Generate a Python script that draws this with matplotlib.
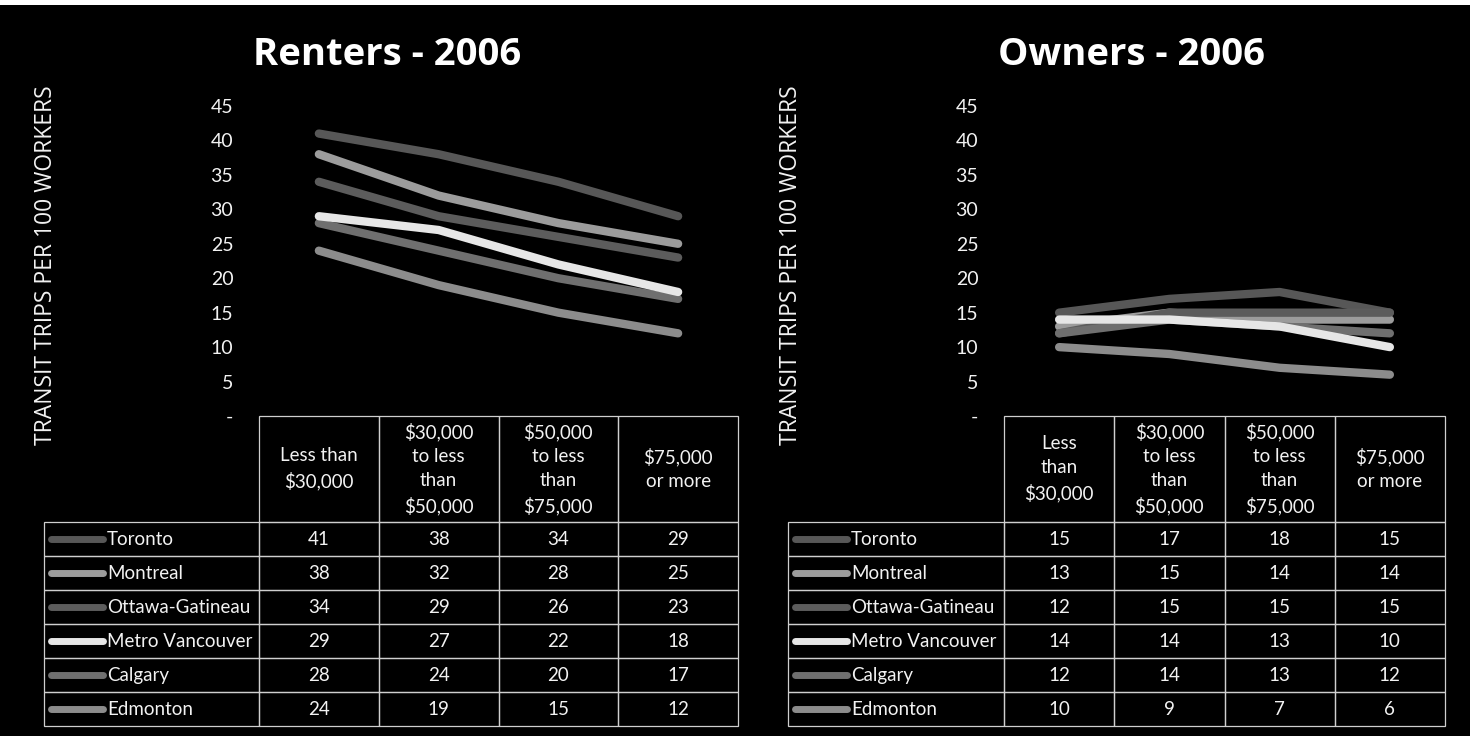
"""
Transit trips per 100 workers by household income, renters vs owners (2006).
Two Excel-style line charts, each with its data table underneath.
"""

import matplotlib
matplotlib.use("Agg")
import matplotlib.pyplot as plt
from matplotlib.patches import Rectangle
from matplotlib.lines import Line2D

# ------------------------------------------------------------
# Data
# ------------------------------------------------------------
CITIES = ["Toronto", "Montreal", "Ottawa-Gatineau",
          "Metro Vancouver", "Calgary", "Edmonton"]

INCOME_RENTERS = ["Less than\n$30,000",
                  "$30,000\nto less\nthan\n$50,000",
                  "$50,000\nto less\nthan\n$75,000",
                  "$75,000\nor more"]
INCOME_OWNERS = ["Less\nthan\n$30,000",
                 "$30,000\nto less\nthan\n$50,000",
                 "$50,000\nto less\nthan\n$75,000",
                 "$75,000\nor more"]

RENTERS = [
    [41, 38, 34, 29],
    [38, 32, 28, 25],
    [34, 29, 26, 23],
    [29, 27, 22, 18],
    [28, 24, 20, 17],
    [24, 19, 15, 12],
]
OWNERS = [
    [15, 17, 18, 15],
    [13, 15, 14, 14],
    [12, 15, 15, 15],
    [14, 14, 13, 10],
    [12, 14, 13, 12],
    [10, 9, 7, 6],
]

Y_TICKS = [0, 5, 10, 15, 20, 25, 30, 35, 40, 45]
Y_LABEL = "TRANSIT TRIPS PER 100 WORKERS"

# ------------------------------------------------------------
# Style
# ------------------------------------------------------------
LINE_COLORS = ["#575757", "#9c9c9c", "#5c5c5c", "#e6e6e6", "#6f6f6f", "#8c8c8c"]
LINE_Z = [3, 3, 3, 5, 4, 3]
GRID_C = "#cfcfcf"
TXT_C = "#f2f2f2"
BODY_FONT = "Lato"
HEAD_FONT = "Open Sans"

W, H = 1476, 736


def px_rect(x0, y0, x1, y1):
    """Pixel box (top-left origin) -> figure fraction rect."""
    return [x0 / W, 1 - y1 / H, (x1 - x0) / W, (y1 - y0) / H]


def draw_panel(fig, title, title_x, cats, values, chart_x0, chart_x1,
               table_x0, ylabel_x):
    top_px, zero_px = 106, 416       # y of 45 and of 0
    head_bot, tab_bot = 522, 726     # table header bottom, table bottom

    # ---- line chart ----
    ax = fig.add_axes(px_rect(chart_x0, top_px, chart_x1, zero_px))
    ax.set_facecolor("black")
    for s in ax.spines.values():
        s.set_visible(False)
    x = list(range(len(cats)))
    for vals, col, z in zip(values, LINE_COLORS, LINE_Z):
        ax.plot(x, vals, color=col, lw=6, solid_capstyle="round",
                solid_joinstyle="round", zorder=z)
    ax.set_xlim(-0.5, len(cats) - 0.5)
    ax.set_ylim(0, 45)
    ax.set_xticks([])
    ax.set_yticks(Y_TICKS)
    ax.set_yticklabels(["-" if t == 0 else str(t) for t in Y_TICKS],
                       fontfamily=BODY_FONT, fontsize=14, color=TXT_C)
    ax.tick_params(axis="y", length=0, pad=18.5)

    fig.text(ylabel_x / W, 1 - 265 / H, Y_LABEL, rotation=90,
             ha="center", va="center", color=TXT_C,
             fontfamily=HEAD_FONT, fontsize=16.5)
    fig.text(title_x / W, 1 - 65 / H, title, ha="center", va="baseline",
             color="white", fontfamily=HEAD_FONT, fontweight="bold",
             fontsize=27.5)

    # ---- data table ----
    unit_px = (chart_x1 - chart_x0) / len(cats)
    hdr_w = (chart_x0 - table_x0) / unit_px
    row_px = (tab_bot - head_bot) / len(values)
    head_h = (head_bot - zero_px) / row_px

    tax = fig.add_axes(px_rect(table_x0, zero_px, chart_x1, tab_bot))
    tax.set_xlim(-0.5 - hdr_w, len(cats) - 0.5)
    tax.set_ylim(len(values), -head_h)
    tax.axis("off")
    tax.patch.set_alpha(0)

    edge = dict(fill=False, edgecolor=GRID_C, lw=0.9, clip_on=False)
    for c, lab in enumerate(cats):
        tax.add_patch(Rectangle((c - 0.5, -head_h), 1, head_h, **edge))
        tax.text(c, -head_h / 2, lab, ha="center", va="center",
                 color=TXT_C, fontfamily=BODY_FONT, fontsize=13.5,
                 linespacing=1.5)

    for r, (city, vals, col) in enumerate(zip(CITIES, values, LINE_COLORS)):
        tax.add_patch(Rectangle((-0.5 - hdr_w, r), hdr_w, 1, **edge))
        sx0 = -0.5 - hdr_w + 7 / unit_px
        sx1 = -0.5 - hdr_w + 59 / unit_px
        tax.add_line(Line2D([sx0, sx1], [r + 0.5, r + 0.5], color=col,
                            lw=5, solid_capstyle="round", clip_on=False))
        tax.text(-0.5 - hdr_w + 63 / unit_px, r + 0.52, city, ha="left",
                 va="center", color=TXT_C, fontfamily=BODY_FONT,
                 fontsize=13.5)
        for c, v in enumerate(vals):
            tax.add_patch(Rectangle((c - 0.5, r), 1, 1, **edge))
            tax.text(c, r + 0.52, str(v), ha="center", va="center",
                     color=TXT_C, fontfamily=BODY_FONT, fontsize=13.5)


fig = plt.figure(figsize=(W / 100, H / 100), dpi=100)
fig.patch.set_facecolor("black")

draw_panel(fig, "Renters - 2006", 387, INCOME_RENTERS, RENTERS,
           chart_x0=259, chart_x1=738, table_x0=44, ylabel_x=46)
draw_panel(fig, "Owners - 2006", 1132, INCOME_OWNERS, OWNERS,
           chart_x0=1004, chart_x1=1445, table_x0=788, ylabel_x=791)

# paper edge along the top and right of the scan
fig.patches.append(Rectangle((0, 1 - 5 / H), 1, 5 / H, transform=fig.transFigure,
                             facecolor="white", edgecolor="none", zorder=-1))
fig.patches.append(Rectangle((1 - 6 / W, 0), 6 / W, 1, transform=fig.transFigure,
                             facecolor="white", edgecolor="none", zorder=-1))

fig.savefig("out.png", dpi=100, facecolor=fig.get_facecolor())
